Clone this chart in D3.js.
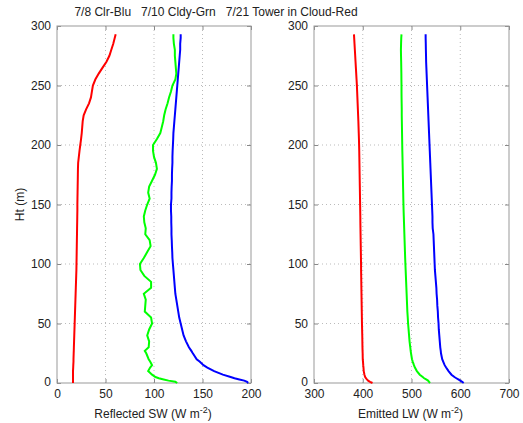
<!DOCTYPE html>
<html>
<head>
<meta charset="utf-8">
<script src="https://cdn.jsdelivr.net/npm/d3@7"></script>
<style>
  body { margin: 0; background: #fff; }
  svg { display: block; font-family: Arial, "Liberation Sans", sans-serif; }
  .tick text { font-size: 12px; fill: #222; }
</style>
</head>
<body>
<div id="chart"></div>
<script>
const heights = [0, 1, 2, 3, 4, 5, 7, 10, 13, 15, 18, 20, 25, 27, 30, 35, 40, 45, 50, 55,
  60, 65, 70, 75, 80, 85, 90, 95, 100, 105, 110, 115, 120, 125, 130, 135, 140, 145, 150, 155,
  160, 165, 170, 175, 180, 185, 190, 195, 200, 205, 210, 215, 220, 225, 230, 235, 240, 245, 250, 255,
  260, 265, 270, 275, 280, 285, 290, 293]

// reflected shortwave, W m-2
const swBlue = [197, 196, 193, 188, 183, 179, 171, 162, 155, 151, 147, 144, 140, 138.5, 136, 133, 130.5, 129, 127.5, 126,
  125, 124, 123, 122, 121.5, 121, 120.5, 120, 119.5, 119, 118.8, 118.5, 118.3, 118, 118, 117.8, 117.8, 117.5, 117.5, 118,
  118, 118.2, 118.5, 118.5, 118.7, 119, 119, 119.2, 119.5, 119.8, 120, 120.5, 121, 121.5, 122, 122.5, 123, 123.5, 124, 124.5,
  125, 125.5, 126, 126.5, 127, 127, 127.5, 127.5]
const swGreen = [124, 122, 115, 110, 105, 101.5, 98, 94, 96, 98, 96, 94.5, 92, 90.5, 94.5, 95, 93, 95, 98, 97,
  90.5, 91, 91.5, 89.5, 97, 97, 90, 86, 85.5, 89.5, 93, 96.5, 95.5, 91, 91.5, 90, 89.5, 91, 93, 95.5,
  94, 95, 98, 101, 103, 102, 100, 99, 99, 103, 106.5, 108, 109.5, 110.5, 112, 114, 115.5, 117.5, 119, 122,
  123, 122.5, 122, 121.5, 121.5, 120.5, 120, 120]
const swRed = [16.5, 16.5, 16.5, 16.5, 16.5, 16.5, 16.5, 16.5, 16.7, 16.8, 17, 17, 17.2, 17.3, 17.4, 17.6, 17.8, 18, 18.2, 18.4,
  18.6, 18.8, 19, 19.2, 19.4, 19.6, 19.8, 20, 20.1, 20.2, 20.3, 20.4, 20.5, 20.6, 20.7, 20.8, 20.9, 21, 21, 21.1,
  21.2, 21.3, 21.4, 21.5, 21.6, 21.8, 22.5, 23.2, 24, 24.8, 25.5, 26, 26.5, 27.5, 30, 33, 35, 36, 37, 39.5,
  43, 47, 51, 54, 56, 58, 59.5, 60.5]

// emitted longwave, W m-2
const lwBlue = [607, 604, 600, 596, 592, 588, 582, 576, 571, 568, 565, 563, 560.5, 560, 559, 558, 557, 556, 555.5, 554.5,
  554, 553, 552.5, 551.5, 551, 550, 549, 548, 547.5, 547, 546.5, 546, 545.5, 545, 543.5, 543, 543, 542.5, 542, 541.5,
  541, 540.5, 540, 539.5, 539, 538.5, 538, 537.5, 537, 536.5, 536, 535.5, 535, 534.5, 534, 533.5, 533, 532.5, 532, 531.5,
  531, 530.5, 530, 529.8, 529.5, 529.3, 529, 529]
const lwGreen = [538, 536, 534, 530, 526, 523, 517, 511, 507, 505, 502.5, 501, 499, 498.3, 497.5, 496, 495, 494, 493, 492.3,
  491.5, 491, 490.5, 490, 489.5, 489, 488.5, 488, 487.5, 487, 486.6, 486.2, 485.8, 485.4, 485, 484.6, 484.2, 483.8, 483.5, 483.2,
  483, 482.7, 482.5, 482.2, 482, 481.7, 481.5, 481.2, 481, 480.8, 480.6, 480.4, 480.2, 480, 480, 479.8, 479.6, 479.5, 479.5, 479.3,
  479.2, 479, 478.8, 478.5, 478.3, 478.6, 479, 479.5]
const lwRed = [420, 415, 411, 408.5, 406.5, 405, 403.5, 402, 401.5, 401, 400.5, 400, 399.8, 399.6, 399.4, 399.2, 399, 398.7, 398.4, 398.2,
  398, 397.8, 397.6, 397.4, 397.2, 397, 396.8, 396.6, 396.5, 396.3, 396.1, 395.9, 395.7, 395.5, 395.3, 395.1, 395, 394.8, 394.6, 394.4,
  394.2, 394, 393.8, 393.6, 393.4, 393.2, 393, 392.8, 392.5, 392.2, 391.8, 391.4, 391, 390.5, 390, 389.5, 389, 388.5, 388, 387.3,
  386.6, 385.9, 385.2, 384.5, 383.8, 383.1, 382.4, 382]

const heightTicks = [0, 50, 100, 150, 200, 250, 300]
const swTicks = [0, 50, 100, 150, 200]
const lwTicks = [300, 400, 500, 600, 700]
const chartTitle = '7/8 Clr-Blu   7/10 Cldy-Grn   7/21 Tower in Cloud-Red'

const width = 523
const height = 423
const plotTop = 26
const plotBottom = 383

const svg = d3.select('#chart').append('svg')
  .attr('width', width)
  .attr('height', height)

svg.append('rect').attr('width', width).attr('height', height).attr('fill', '#fff')

const y = d3.scaleLinear().domain([0, 300]).range([plotBottom, plotTop])

const drawPanel = function (left, right, xTicks, series, label) {
  const x = d3.scaleLinear().domain([xTicks[0], xTicks[xTicks.length - 1]]).range([left, right])
  const g = svg.append('g')

  // dotted grid
  g.selectAll('.gx').data(xTicks.slice(1, -1)).enter().append('line')
    .attr('x1', d => x(d)).attr('x2', d => x(d))
    .attr('y1', plotTop).attr('y2', plotBottom)
    .attr('stroke', '#bbb').attr('stroke-dasharray', '1,3')
  g.selectAll('.gy').data(heightTicks.slice(1, -1)).enter().append('line')
    .attr('x1', left).attr('x2', right)
    .attr('y1', d => y(d)).attr('y2', d => y(d))
    .attr('stroke', '#bbb').attr('stroke-dasharray', '1,3')

  // axes with inward ticks
  const xAxis = g.append('g').attr('transform', 'translate(0,' + plotBottom + ')')
    .call(d3.axisBottom(x).tickValues(xTicks).tickSizeInner(-4).tickSizeOuter(0).tickPadding(11))
  const xTop = g.append('g').attr('transform', 'translate(0,' + plotTop + ')')
    .call(d3.axisTop(x).tickValues(xTicks).tickSizeInner(-4).tickSizeOuter(0).tickFormat(''))
  const yAxis = g.append('g').attr('transform', 'translate(' + left + ',0)')
    .call(d3.axisLeft(y).tickValues(heightTicks).tickSizeInner(-4).tickSizeOuter(0).tickPadding(6))
  const yRight = g.append('g').attr('transform', 'translate(' + right + ',0)')
    .call(d3.axisRight(y).tickValues(heightTicks).tickSizeInner(-4).tickSizeOuter(0).tickFormat(''))
  ;[xAxis, xTop, yAxis, yRight].forEach(function (a) {
    a.select('.domain').remove()
    a.selectAll('.tick line').attr('stroke', '#888')
  })
  xAxis.selectAll('.tick text').attr('dy', '0.35em')
  // the 0 height label sits just above the x tick labels
  yAxis.selectAll('.tick text').filter(d => d === 0).attr('dy', '0.2em')

  g.append('rect')
    .attr('x', left).attr('y', plotTop)
    .attr('width', right - left).attr('height', plotBottom - plotTop)
    .attr('fill', 'none').attr('stroke', '#999')

  const line = d3.line()
    .x(d => x(d[0]))
    .y(d => y(d[1]))

  series.forEach(function (s) {
    g.append('path')
      .datum(s.values.map((v, i) => [v, heights[i]]))
      .attr('d', line)
      .attr('fill', 'none')
      .attr('stroke', s.color)
      .attr('stroke-width', 2)
  })

  const t = svg.append('text')
    .attr('x', (left + right) / 2 - 1)
    .attr('y', 418)
    .attr('text-anchor', 'middle')
    .attr('font-size', 12)
    .attr('fill', '#222')
  t.append('tspan').text(label + ' (W m')
  t.append('tspan').attr('dy', -5).attr('font-size', 9).text('-2')
  t.append('tspan').attr('dy', 5).text(')')
}

drawPanel(57, 251, swTicks, [
  { values: swRed, color: '#ff0000' },
  { values: swGreen, color: '#00ff00' },
  { values: swBlue, color: '#0000ff' }
], 'Reflected SW')

drawPanel(314, 509, lwTicks, [
  { values: lwRed, color: '#ff0000' },
  { values: lwGreen, color: '#00ff00' },
  { values: lwBlue, color: '#0000ff' }
], 'Emitted LW')

svg.append('text')
  .attr('x', 216)
  .attr('y', 16)
  .attr('text-anchor', 'middle')
  .attr('font-size', 12)
  .attr('fill', '#222')
  .style('white-space', 'pre')
  .text(chartTitle)

svg.append('text')
  .attr('transform', 'translate(24,' + (plotTop + plotBottom) / 2 + ') rotate(-90)')
  .attr('text-anchor', 'middle')
  .attr('font-size', 12)
  .attr('fill', '#222')
  .text('Ht (m)')
</script>
</body>
</html>
